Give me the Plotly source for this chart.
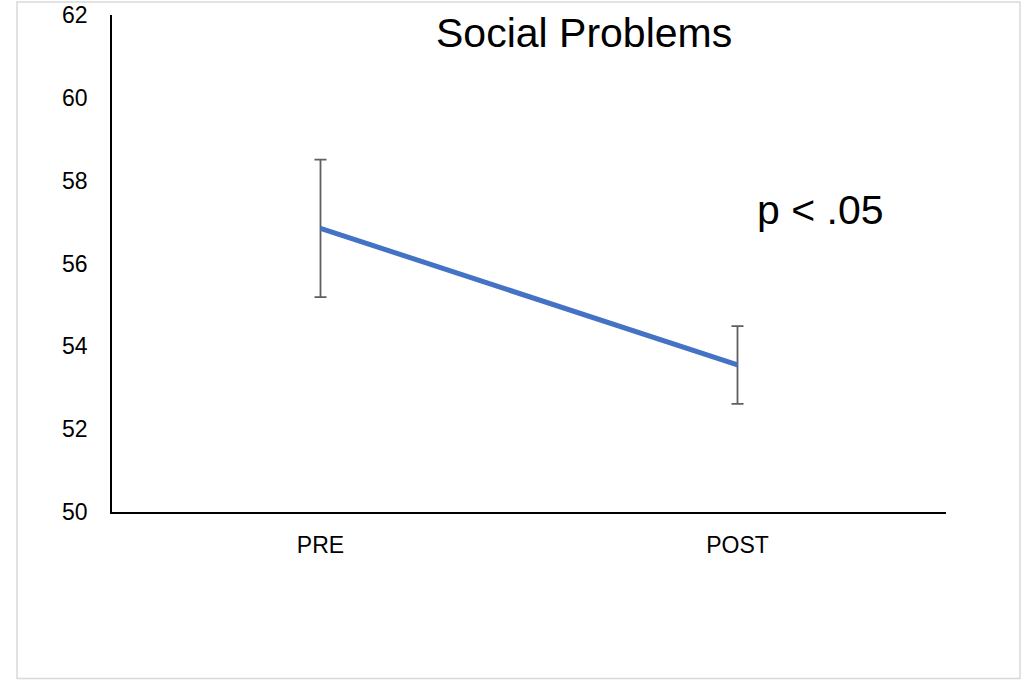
import plotly.graph_objects as go

# Mean scores with error bars
phases = ["PRE", "POST"]
means = [56.85, 53.55]
errors = [1.66, 0.94]

y_ticks = [50, 52, 54, 56, 58, 60, 62]

fig = go.Figure()
fig.add_trace(go.Scatter(
    x=phases, y=means, mode="lines",
    line=dict(color="#4472C4", width=5),
    error_y=dict(type="data", array=errors, visible=True,
                 color="#5f5f5f", thickness=1.8, width=6),
    showlegend=False, hoverinfo="skip",
))

# plot area in pixels: x 112..946, y 15..512
pw, ph = 834, 497

fig.update_layout(
    width=1025, height=680,
    margin=dict(l=112, r=79, t=15, b=168),
    paper_bgcolor="white", plot_bgcolor="white",
    font=dict(family="Liberation Sans, Arial, sans-serif", color="black"),
    xaxis=dict(range=[-0.5, 1.5], showline=True, linecolor="black",
               linewidth=1.5, showgrid=False, zeroline=False, ticks="",
               tickfont=dict(size=23), ticklabelstandoff=12,
               automargin=False),
    yaxis=dict(range=[50, 62], tickvals=y_ticks, showline=True,
               linecolor="black", linewidth=1.5, showgrid=False,
               zeroline=False, ticks="", tickfont=dict(size=23),
               ticklabelstandoff=18, automargin=False),
    annotations=[
        dict(text="Social Problems", x=(584 - 112) / pw, y=(512 - 33) / ph,
             xref="paper", yref="paper", xanchor="center", yanchor="middle",
             showarrow=False, font=dict(size=41)),
        dict(text="p < .05", x=(820 - 112) / pw, y=(512 - 210) / ph,
             xref="paper", yref="paper", xanchor="center", yanchor="middle",
             showarrow=False, font=dict(size=41)),
    ],
)

# light outer frame around the chart
fig.add_shape(type="rect", xref="paper", yref="paper",
              x0=(17 - 112) / pw, x1=(1020 - 112) / pw,
              y0=(512 - 678.5) / ph, y1=(512 - 2) / ph,
              line=dict(color="#d9d9d9", width=1.5), layer="below")

fig.write_html("out.html")
